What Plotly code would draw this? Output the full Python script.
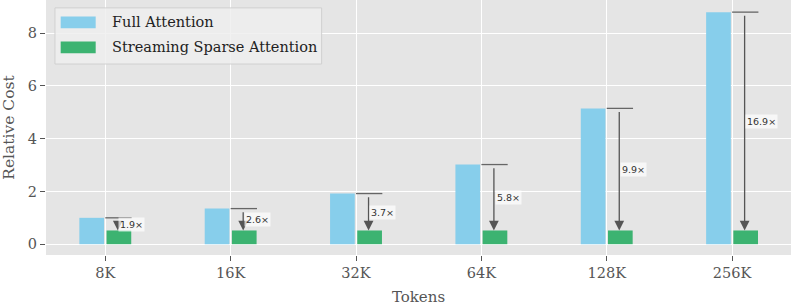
import plotly.graph_objects as go

tokens = ["8K", "16K", "32K", "64K", "128K", "256K"]
full_attention = [1.0, 1.35, 1.92, 3.02, 5.15, 8.8]
sparse_attention = [0.52, 0.52, 0.52, 0.52, 0.52, 0.52]
speedups = ["1.9×", "2.6×", "3.7×", "5.8×", "9.9×", "16.9×"]

BLUE = "#87CEEB"
GREEN = "#3CB371"
GREY = "#555555"
SERIF = "DejaVu Serif"

x = list(range(len(tokens)))

fig = go.Figure()
fig.add_trace(go.Bar(x=x, y=full_attention, width=0.197, offset=-0.207,
                     marker=dict(color=BLUE, line=dict(width=0)),
                     name="Full Attention", showlegend=False))
fig.add_trace(go.Bar(x=x, y=sparse_attention, width=0.197, offset=0.01,
                     marker=dict(color=GREEN, line=dict(width=0)),
                     name="Streaming Sparse Attention", showlegend=False))

shapes = []
annotations = []
for i, (f, s, lab) in enumerate(zip(full_attention, sparse_attention, speedups)):
    shapes.append(dict(type="line", xref="x", yref="y", x0=i, x1=i + 0.21, y0=f, y1=f,
                       line=dict(color="#666666", width=1.3)))
    annotations.append(dict(x=i + 0.1, y=s, xref="x", yref="y",
                            ax=i + 0.1, ay=f - 0.08, axref="x", ayref="y",
                            text="", showarrow=True, arrowhead=2, arrowsize=1.5,
                            arrowwidth=1.3, arrowcolor=GREY, standoff=0))
    annotations.append(dict(x=i + 0.105, y=(f + s) / 2, xref="x", yref="y",
                            text=lab, showarrow=False, xanchor="left", yanchor="middle",
                            font=dict(family="DejaVu Sans", size=9.5, color="#333333"),
                            bgcolor="rgba(255,255,255,0.7)", borderpad=1))

# custom legend
shapes.append(dict(type="rect", xref="paper", yref="paper",
                   x0=0.012, x1=0.370, y0=0.749, y1=0.969,
                   fillcolor="rgba(238,238,238,0.85)", line=dict(color="#d0d0d0", width=1)))
legend_items = [("Full Attention", BLUE, 0.912), ("Streaming Sparse Attention", GREEN, 0.814)]
for name, col, yc in legend_items:
    shapes.append(dict(type="rect", xref="paper", yref="paper",
                       x0=0.0197, x1=0.0667, y0=yc - 0.023, y1=yc + 0.023,
                       fillcolor=col, line=dict(width=0)))
    annotations.append(dict(x=0.0859, y=yc, xref="paper", yref="paper", text=name,
                            showarrow=False, xanchor="left", yanchor="middle",
                            font=dict(family=SERIF, size=14.5, color="#222222")))

fig.update_layout(
    width=793, height=307,
    margin=dict(l=46, r=2, t=0, b=52, autoexpand=False),
    plot_bgcolor="#E5E5E5", paper_bgcolor="white",
    shapes=shapes, annotations=annotations,
    barmode="overlay",
    font=dict(family=SERIF, color=GREY, size=14),
)
fig.update_xaxes(range=[-0.473, 5.47], tickvals=x, ticktext=tokens,
                 showgrid=True, gridcolor="white", gridwidth=1.2,
                 ticks="outside", ticklen=5, tickcolor=GREY, tickwidth=1.2,
                 zeroline=False, showline=False, automargin=False,
                 title=dict(text="Tokens", standoff=11, font=dict(size=15, color=GREY)),
                 tickfont=dict(size=14.5, color=GREY))
fig.update_yaxes(range=[-0.41, 9.26], tickvals=[0, 2, 4, 6, 8],
                 showgrid=True, gridcolor="white", gridwidth=1.2,
                 ticks="outside", ticklen=5, tickcolor=GREY, tickwidth=1.2,
                 zeroline=False, showline=False, automargin=False,
                 title=dict(text="Relative Cost", standoff=9, font=dict(size=15.5, color=GREY)),
                 tickfont=dict(size=14.5, color=GREY))

fig.write_html("out.html", config={"displayModeBar": False},
               post_script="document.body.style.margin='0px';")
